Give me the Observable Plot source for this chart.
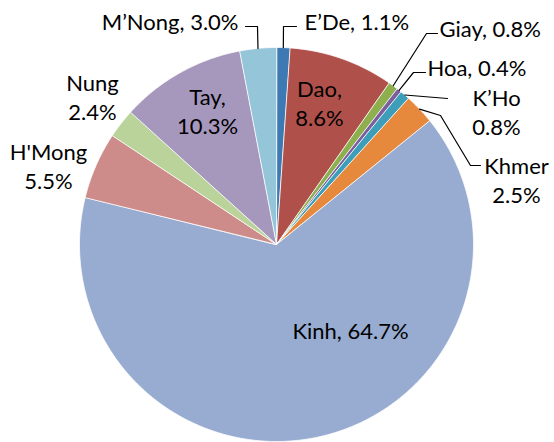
<!DOCTYPE html>
<html>
<head>
<meta charset="utf-8">
<script src="https://cdn.jsdelivr.net/npm/d3@7"></script>
<script src="https://cdn.jsdelivr.net/npm/@observablehq/plot@0.6"></script>
<style>
  html, body { margin: 0; padding: 0; background: #fff; }
  #chart svg { display: block; }
</style>
</head>
<body>
<div id="chart"></div>
<script>
// ---- data ----
const groups = ["E’De", "Dao", "Giay", "Hoa", "K’Ho", "Khmer", "Kinh", "H'Mong", "Nung", "Tay", "M’Nong"];
const shares = [1.1, 8.6, 0.8, 0.4, 0.8, 2.5, 64.7, 5.5, 2.4, 10.3, 3.0];
const labelText = ["E’De, 1.1%", "Dao,\n8.6%", "Giay, 0.8%", "Hoa, 0.4%", "K’Ho\n0.8%", "Khmer\n2.5%",
                   "Kinh, 64.7%", "H'Mong\n5.5%", "Nung\n2.4%", "Tay,\n10.3%", "M’Nong, 3.0%"];
const colors = ["#3d79b3", "#b0504a", "#8eaf4e", "#7a5e9e", "#3c9eb9", "#e6893c",
                "#97acd0", "#cd8b89", "#b9d39b", "#a698bc", "#95c5d8"];

// ---- layout ----
const W = 554, H = 442;
const cx = 276, cy = 244, R = 197;
// label anchor positions (pixel layout) and leader elbows
const labelPos = {
  "E’De":   {x: 304, y: 20, anchor: "start"},
  "Dao":    {x: 319, y: 102, anchor: "middle"},
  "Giay":   {x: 439, y: 27, anchor: "start"},
  "Hoa":    {x: 427, y: 66, anchor: "start"},
  "K’Ho":   {x: 496, y: 111, anchor: "middle"},
  "Khmer":  {x: 516, y: 179, anchor: "middle"},
  "Kinh":   {x: 350, y: 329, anchor: "middle"},
  "H'Mong": {x: 48, y: 165, anchor: "middle"},
  "Nung":   {x: 92, y: 96, anchor: "middle"},
  "Tay":    {x: 207, y: 110, anchor: "middle"},
  "M’Nong": {x: 238, y: 20, anchor: "end"}
};
const leaderElbows = {
  "E’De":   [[283, 26], [296, 26]],
  "Giay":   [[426, 33], [437, 33]],
  "Hoa":    [[413, 72], [425, 72]],
  "K’Ho":   [[447, 98]],
  "Khmer":  [[440, 115], [470, 165], [480, 165]],
  "M’Nong": [[257, 26], [245, 26]]
};

// ---- geometry from data ----
const pie = d3.pie().sort(null).value((d, i) => shares[i]);
const arcs = pie(groups);
const polar = (a, r) => [cx + r * Math.sin(a), cy - r * Math.cos(a)];

const wedgePts = [];
arcs.forEach((a, i) => {
  wedgePts.push({name: groups[i], x: cx, y: cy});
  const n = Math.max(2, Math.ceil((a.endAngle - a.startAngle) / 0.01));
  for (let k = 0; k <= n; k++) {
    const t = a.startAngle + (a.endAngle - a.startAngle) * k / n;
    const [x, y] = polar(t, R);
    wedgePts.push({name: groups[i], x, y});
  }
});

const leaderPts = [];
arcs.forEach((a, i) => {
  const el = leaderElbows[groups[i]];
  if (!el) return;
  const [x0, y0] = polar((a.startAngle + a.endAngle) / 2, R);
  leaderPts.push({name: groups[i], x: x0, y: y0});
  el.forEach(([x, y]) => leaderPts.push({name: groups[i], x, y}));
});

const labels = groups.map((g, i) => ({name: g, text: labelText[i], ...labelPos[g]}));

const textMark = (anchor) => Plot.text(labels.filter(d => d.anchor === anchor), {
  x: "x", y: "y", text: "text", textAnchor: anchor, lineAnchor: "middle",
  lineHeight: 1.3, fill: "#000", fontSize: 22
});

const chart = Plot.plot({
  width: W, height: H, margin: 0,
  x: {domain: [0, W], range: [0, W], axis: null},
  y: {domain: [0, H], range: [0, H], axis: null},
  color: {domain: groups, range: colors},
  style: {fontFamily: "Lato, 'Open Sans', sans-serif", background: "#fff"},
  marks: [
    Plot.line(wedgePts, {x: "x", y: "y", z: "name", fill: "name", stroke: "#fff",
      strokeWidth: 0.8, curve: "linear-closed"}),
    Plot.line(leaderPts, {x: "x", y: "y", z: "name", stroke: "#000", strokeWidth: 1.2}),
    textMark("start"), textMark("middle"), textMark("end")
  ]
});
document.getElementById("chart").append(chart);
</script>
</body>
</html>
